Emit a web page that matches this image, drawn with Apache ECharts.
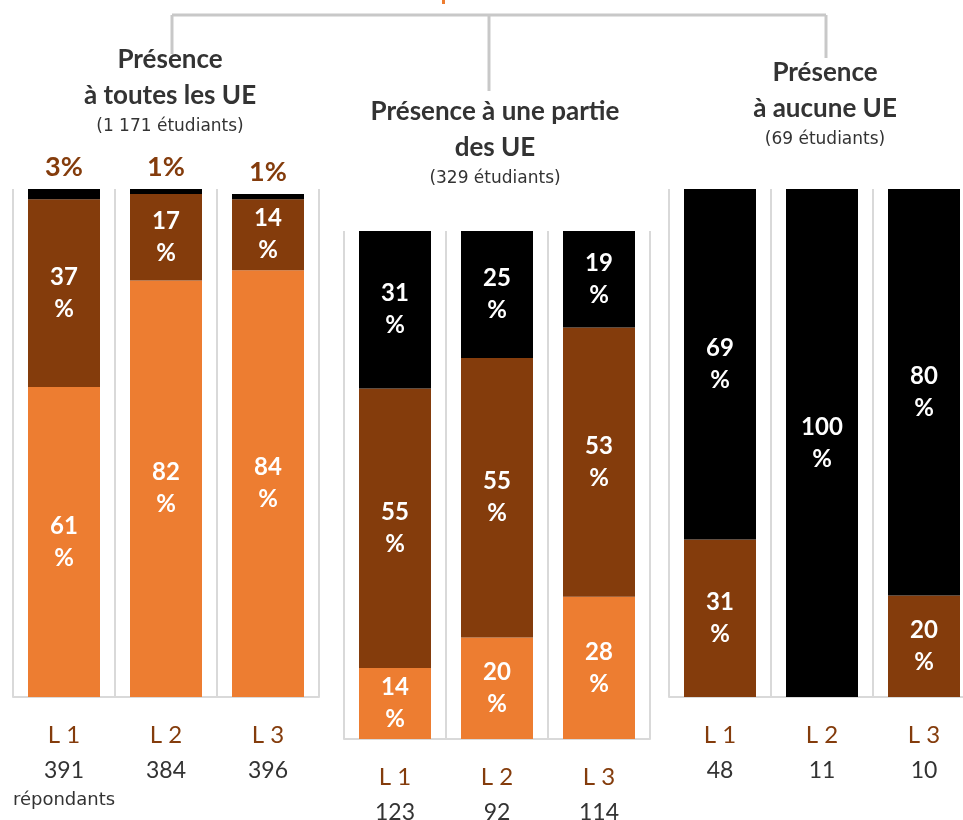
<!DOCTYPE html>
<html>
<head>
<meta charset="utf-8">
<script src="https://cdn.jsdelivr.net/npm/echarts@6/dist/echarts.min.js"></script>
<style>
  html, body { margin: 0; padding: 0; background: #fff; }
  #main { width: 963px; height: 820px; }
</style>
</head>
<body>
<div id="main"></div>
<script>
var chart = echarts.init(document.getElementById('main'));

// levels, same for every group
var levels = ['L 1', 'L 2', 'L 3'];

// respondents per level
var countsAll = [391, 384, 396];
var countsPart = [123, 92, 114];
var countsNone = [48, 11, 10];

// shares in % (bottom to top: orange, brown, black)
var orangeAll = [61, 82, 84];
var brownAll = [37, 17, 14];
var blackAll = [3, 1, 1];

var orangePart = [14, 20, 28];
var brownPart = [55, 55, 53];
var blackPart = [31, 25, 19];

var orangeNone = [0, 0, 0];
var brownNone = [31, 0, 20];
var blackNone = [69, 100, 80];

var headers = [
    ['Présence', 'à toutes les UE', '(1 171 étudiants)'],
    ['Présence à une partie', 'des UE', '(329 étudiants)'],
    ['Présence', 'à aucune UE', '(69 étudiants)']
];

var ORANGE = '#ED7D31', BROWN = '#843C0C', BLACK = '#000000';
var GRID_LINE = '#D9D9D9';
var FONT = 'Lato';
var THIN = '"DejaVu Sans"';

// the last panel runs a little past the right edge, as in the source
var grids = [
    { left: 13, width: 306, top: 189, bottom: 123, outerBoundsMode: 'none' },
    { left: 344, width: 306, top: 231, bottom: 81, outerBoundsMode: 'none' },
    { left: 669, width: 306, top: 189, bottom: 123, outerBoundsMode: 'none' }
];

function xAxisFor(idx, counts) {
    return {
        type: 'category',
        gridIndex: idx,
        data: levels,
        axisTick: { show: false },
        axisLine: { lineStyle: { color: GRID_LINE, width: 2 } },
        splitLine: { show: true, interval: 0, lineStyle: { color: GRID_LINE, width: 2 } },
        axisLabel: {
            interval: 0,
            margin: 20,
            formatter: function (v, i) {
                var s = '{l|' + v + '}\n{n|' + counts[i] + '}';
                if (idx === 0 && i === 0) s += '\n{r|répondants}';
                return s;
            },
            rich: {
                l: { color: BROWN, fontSize: 24, lineHeight: 36, fontFamily: FONT },
                n: { color: '#333333', fontSize: 23, lineHeight: 36, fontFamily: FONT },
                r: { color: '#333333', fontSize: 18, lineHeight: 22, fontFamily: THIN }
            }
        }
    };
}

function yAxisFor(idx) {
    return { type: 'value', gridIndex: idx, min: 0, max: 100, show: false };
}

function barData(values) {
    return values.map(function (v) {
        if (v > 0 && v < 5) {
            return {
                value: v,
                label: {
                    position: 'top',
                    distance: 6,
                    color: BROWN,
                    fontSize: 27,
                    formatter: '{c}%'
                }
            };
        }
        return v;
    });
}

function seriesFor(idx, values, color) {
    return {
        type: 'bar',
        xAxisIndex: idx,
        yAxisIndex: idx,
        stack: 'g' + idx,
        barWidth: 72,
        data: barData(values),
        itemStyle: { color: color },
        label: {
            show: true,
            position: 'inside',
            color: '#ffffff',
            fontSize: 24,
            fontWeight: 'bold',
            fontFamily: FONT,
            lineHeight: 32,
            formatter: function (p) {
                return p.value > 0 ? p.value + '\n%' : '';
            }
        }
    };
}

var centers = [170, 495, 825];
var headerTops = [60, 112, 73];
var graphics = [];
headers.forEach(function (h, g) {
    var y = headerTops[g];
    graphics.push({ type: 'text', x: centers[g], y: y, style: { text: h[0], fill: '#333333', font: 'bold 26px ' + FONT, textAlign: 'center', textVerticalAlign: 'middle' } });
    graphics.push({ type: 'text', x: centers[g], y: y + 36, style: { text: h[1], fill: '#333333', font: 'bold 26px ' + FONT, textAlign: 'center', textVerticalAlign: 'middle' } });
    graphics.push({ type: 'text', x: centers[g], y: y + 67, style: { text: h[2], fill: '#333333', font: '17px ' + THIN, textAlign: 'center', textVerticalAlign: 'middle' } });
});
// bracket joining the three groups
var bracket = { stroke: '#C8C8C8', lineWidth: 3 };
graphics.push({ type: 'line', shape: { x1: 172, y1: 15, x2: 826, y2: 15 }, style: bracket });
graphics.push({ type: 'line', shape: { x1: 172, y1: 15, x2: 172, y2: 54 }, style: bracket });
graphics.push({ type: 'line', shape: { x1: 489, y1: 15, x2: 489, y2: 91 }, style: bracket });
graphics.push({ type: 'line', shape: { x1: 826, y1: 15, x2: 826, y2: 58 }, style: bracket });
// tail of the cut-off title above the picture
graphics.push({ type: 'rect', shape: { x: 442, y: 0, width: 3, height: 4 }, style: { fill: ORANGE } });

var option = {
    animation: false,
    grid: grids,
    xAxis: [xAxisFor(0, countsAll), xAxisFor(1, countsPart), xAxisFor(2, countsNone)],
    yAxis: [yAxisFor(0), yAxisFor(1), yAxisFor(2)],
    series: [
        seriesFor(0, orangeAll, ORANGE),
        seriesFor(0, brownAll, BROWN),
        seriesFor(0, blackAll, BLACK),
        seriesFor(1, orangePart, ORANGE),
        seriesFor(1, brownPart, BROWN),
        seriesFor(1, blackPart, BLACK),
        seriesFor(2, orangeNone, ORANGE),
        seriesFor(2, brownNone, BROWN),
        seriesFor(2, blackNone, BLACK)
    ],
    graphic: graphics
};

chart.setOption(option);

window.onresize = chart.resize;
</script>
</body>
</html>
